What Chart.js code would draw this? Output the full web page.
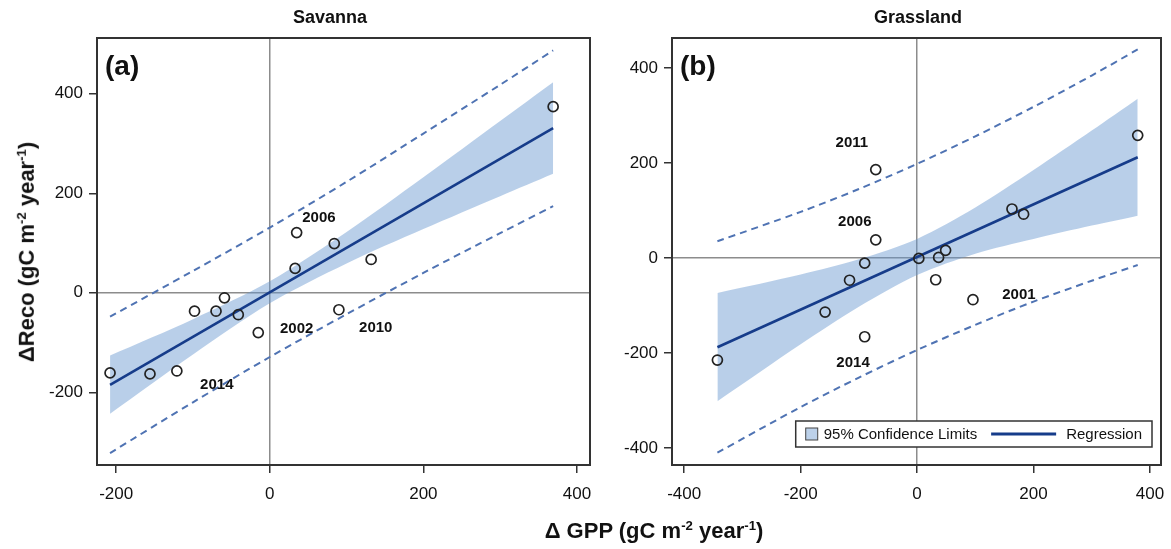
<!DOCTYPE html>
<html>
<head>
<meta charset="utf-8">
<script src="https://cdn.jsdelivr.net/npm/chart.js@4"></script>
<style>
  body { margin: 0; background: #fff; }
  #wrap { position: relative; width: 1171px; height: 549px; font-family: "Liberation Sans", Arial, sans-serif; }
  canvas { position: absolute; top: 0; }
  .lbl { position: absolute; font-weight: bold; white-space: nowrap; color: #111; }
  .lbl sup { font-size: 0.6em; }
</style>
</head>
<body>
<div id="wrap">
  <canvas id="savanna" width="600" height="549" style="left:0"></canvas>
  <canvas id="grass" width="571" height="549" style="left:600px"></canvas>
  <div class="lbl" style="left:330px;top:17px;transform:translate(-50%,-50%);font-size:18px">Savanna</div>
  <div class="lbl" style="left:918px;top:17px;transform:translate(-50%,-50%);font-size:18px">Grassland</div>
  <div class="lbl" style="left:27px;top:252px;transform:translate(-50%,-50%) rotate(-90deg);font-size:22px">ΔReco (gC m<sup>-2</sup> year<sup>-1</sup>)</div>
  <div class="lbl" style="left:654px;top:531px;transform:translate(-50%,-50%);font-size:22px">Δ GPP (gC m<sup>-2</sup> year<sup>-1</sup>)</div>
</div>
<script>
// savanna (a)
const savGPP  = [-208, -156, -121, -98, -70, -59, -41, -15, 33, 35, 84, 90, 132, 369];
const savReco = [-161, -163, -157, -37, -37, -10, -44, -80, 49, 121, 99, -34, 67, 374];
const savRegX = [-208, 369];
const savRegY = [-185, 331];
const savBandX  = [-208, -100, 0, 100, 200, 300, 369];
const savConfHi = [-126, -53, 23, 122, 232, 345, 423];
const savConfLo = [-243, -124, -21, 59, 128, 194, 239];
const savPredHi = [-48, 44, 131, 223, 320, 418, 487];
const savPredLo = [-322, -220, -129, -43, 40, 120, 174];
const savYears  = ["2006", "2002", "2010", "2014"];
const savYearX  = [64, 35, 138, -69];
const savYearY  = [150, -73, -71, -184];
const savXTicks = [-200, 0, 200, 400];
const savYTicks = [-200, 0, 200, 400];

// grassland (b)
const grsGPP  = [-343, -158, -116, -90, -90, -71, -71, 3, 32, 37, 49, 96, 163, 183, 379];
const grsReco = [-215, -114, -47, -11, -166, 186, 38, -1, -46, 1, 16, -88, 103, 92, 258];
const grsRegX = [-343, 379];
const grsRegY = [-188, 212];
const grsBandX  = [-343, -200, -100, 0, 100, 200, 300, 379];
const grsConfHi = [-74, -35, -3, 40, 106, 185, 268, 335];
const grsConfLo = [-302, -182, -103, -36, 9, 40, 68, 89];
const grsPredHi = [35, 97, 145, 198, 256, 318, 384, 439];
const grsPredLo = [-410, -314, -252, -194, -141, -92, -48, -15];
const grsYears  = ["2011", "2006", "2014", "2001"];
const grsYearX  = [-112, -107, -110, 175];
const grsYearY  = [243, 76, -222, -77];
const grsXTicks = [-400, -200, 0, 200, 400];
const grsYTicks = [-400, -200, 0, 200, 400];

const FONT = "'Liberation Sans', Arial, sans-serif";
const BAND = "rgba(99,148,206,0.45)";
const NAVY = "#163c8a";
const DASH = "#4f73b3";

const pts = (xs, ys) => xs.map((x, i) => ({ x: x, y: ys[i] }));

const extras = {
  id: "extras",
  afterDatasetsDraw(chart, args, o) {
    const c = chart.ctx, a = chart.chartArea;
    const xs = chart.scales.x, ys = chart.scales.y;
    c.save();
    c.fillStyle = "#111";
    c.textAlign = "center";
    c.textBaseline = "middle";
    c.font = "bold 15px " + FONT;
    o.years.forEach((t, i) => {
      c.fillText(t, xs.getPixelForValue(o.yx[i]), ys.getPixelForValue(o.yy[i]));
    });
    c.font = "bold 28px " + FONT;
    c.textAlign = "left";
    c.fillText(o.panel, a.left + 8, a.top + 29);

    if (o.legend) {
      c.font = "15px " + FONT;
      const w1 = c.measureText("95% Confidence Limits").width;
      const w2 = c.measureText("Regression").width;
      const w = 10 + 12 + 6 + w1 + 14 + 65 + 10 + w2 + 10;
      const h = 26;
      const x0 = a.right - 9 - w, y0 = a.bottom - 18 - h, cy = y0 + h / 2;
      c.fillStyle = "#fff";
      c.fillRect(x0, y0, w, h);
      c.strokeStyle = "#333";
      c.lineWidth = 1.5;
      c.strokeRect(x0, y0, w, h);
      c.fillStyle = "#bcd1ea";
      c.fillRect(x0 + 10, cy - 6, 12, 12);
      c.strokeStyle = "#444";
      c.lineWidth = 1;
      c.strokeRect(x0 + 10, cy - 6, 12, 12);
      c.fillStyle = "#111";
      let x = x0 + 28;
      c.fillText("95% Confidence Limits", x, cy + 1);
      x += w1 + 14;
      c.strokeStyle = NAVY;
      c.lineWidth = 3;
      c.beginPath();
      c.moveTo(x, cy);
      c.lineTo(x + 65, cy);
      c.stroke();
      x += 75;
      c.fillText("Regression", x, cy + 1);
    }
    c.restore();
  },
  afterDraw(chart) {
    const c = chart.ctx, a = chart.chartArea;
    c.save();
    c.strokeStyle = "#333";
    c.lineWidth = 2;
    c.strokeRect(a.left, a.top, a.right - a.left, a.bottom - a.top);
    c.restore();
  }
};

function axis(min, max, ticks, fit, pad) {
  return {
    type: "linear",
    min: min,
    max: max,
    afterBuildTicks: s => { s.ticks = ticks.map(v => ({ value: v })); },
    afterFit: fit,
    border: { display: false },
    grid: {
      drawOnChartArea: true,
      color: ctx => (ctx.tick && ctx.tick.value === 0) ? "#8c8c8c" : "rgba(0,0,0,0)",
      lineWidth: 1.5,
      tickColor: "#333",
      tickWidth: 1.5,
      tickLength: 8
    },
    ticks: {
      color: "#111",
      font: { family: FONT, size: 17 },
      padding: pad,
      callback: v => String(v)
    }
  };
}

function makeChart(id, d) {
  new Chart(document.getElementById(id).getContext("2d"), {
    type: "scatter",
    data: {
      datasets: [
        { type: "scatter", data: pts(d.gpp, d.reco), order: 0,
          pointRadius: 5, pointBorderWidth: 1.7, pointBorderColor: "#222",
          pointBackgroundColor: "rgba(0,0,0,0)" },
        { type: "line", data: pts(d.regX, d.regY), order: 1,
          borderColor: NAVY, borderWidth: 2.6, pointRadius: 0 },
        { type: "line", data: pts(d.bandX, d.predHi), order: 2,
          borderColor: DASH, borderWidth: 2, borderDash: [7, 5], pointRadius: 0, tension: 0.3 },
        { type: "line", data: pts(d.bandX, d.predLo), order: 2,
          borderColor: DASH, borderWidth: 2, borderDash: [7, 5], pointRadius: 0, tension: 0.3 },
        { type: "line", data: pts(d.bandX, d.confHi), order: 3,
          borderWidth: 0, pointRadius: 0, tension: 0.3, fill: "+1", backgroundColor: BAND },
        { type: "line", data: pts(d.bandX, d.confLo), order: 3,
          borderWidth: 0, pointRadius: 0, tension: 0.3 }
      ]
    },
    options: {
      responsive: false,
      animation: false,
      devicePixelRatio: 1,
      layout: { padding: { top: 38, right: 10, left: 0, bottom: 0 } },
      plugins: {
        legend: { display: false },
        tooltip: { enabled: false },
        extras: d.extras
      },
      scales: {
        x: axis(d.xMin, d.xMax, d.xTicks, s => { s.height = 84; s.paddingLeft = 0; s.paddingRight = 0; }, 11),
        y: axis(d.yMin, d.yMax, d.yTicks, s => { s.width = d.yWidth; s.paddingTop = 0; s.paddingBottom = 0; }, 6)
      }
    },
    plugins: [extras]
  });
}

makeChart("savanna", {
  gpp: savGPP, reco: savReco, regX: savRegX, regY: savRegY,
  bandX: savBandX, confHi: savConfHi, confLo: savConfLo, predHi: savPredHi, predLo: savPredLo,
  xMin: -225, xMax: 417, yMin: -346, yMax: 512, xTicks: savXTicks, yTicks: savYTicks, yWidth: 97,
  extras: { years: savYears, yx: savYearX, yy: savYearY, panel: "(a)", legend: false }
});

makeChart("grass", {
  gpp: grsGPP, reco: grsReco, regX: grsRegX, regY: grsRegY,
  bandX: grsBandX, confHi: grsConfHi, confLo: grsConfLo, predHi: grsPredHi, predLo: grsPredLo,
  xMin: -421, xMax: 419, yMin: -436, yMax: 463, xTicks: grsXTicks, yTicks: grsYTicks, yWidth: 72,
  extras: { years: grsYears, yx: grsYearX, yy: grsYearY, panel: "(b)", legend: true }
});
</script>
</body>
</html>
